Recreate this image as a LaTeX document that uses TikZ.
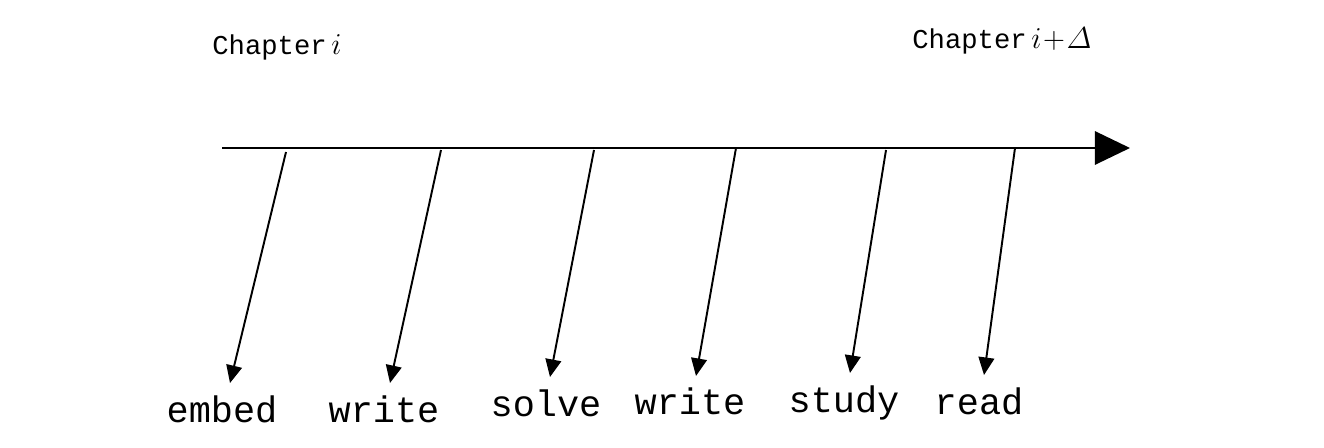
\documentclass[tikz,border=0pt]{standalone}
\usepackage{amsmath}
\usepackage{fontspec}
\setmonofont{Liberation Mono}
\usepackage{tikz}
\usetikzlibrary{arrows.meta}

\begin{document}
\begin{tikzpicture}[x=0.02cm, y=-0.02cm,
    pointer/.style = {line width=1.1pt, -{Triangle[length=10pt,width=9pt]}},
    verb/.style = {font=\ttfamily\fontsize{21}{25}\selectfont, anchor=base, inner sep=0pt},
    chapter/.style = {font=\ttfamily\fontsize{15.5}{18}\selectfont, anchor=base west, inner sep=0pt}]
  \useasboundingbox (0,0) rectangle (1324,448);
  % time line
  \coordinate (begin) at (222,148);
  \coordinate (end) at (1130,148);
  \draw [line width=1.1pt, -{Triangle[length=20pt,width=19pt]}] (begin) -- (end);
  % chapters
  \node[chapter] (chapi) at (212,55) {Chapter\,\fontsize{19}{22}\selectfont$i$};
  \node[chapter] (chapj) at (912,49) {Chapter\,\fontsize{19}{22}\selectfont$i\mkern1mu{+}\mkern1mu\varDelta$};
  % draw verbs
  \node[verb] (embed)  at (222,423) {embed};
  \node[verb] (write)  at (384,423) {write};
  \node[verb] (solve)  at (546,417) {solve};
  \node[verb] (writeb) at (690,415) {write};
  \node[verb] (study)  at (844,413) {study};
  \node[verb] (read)   at (979,415) {read};
  % draw pointers
  \coordinate (s1) at (286,152);  \coordinate (e1) at (230,383);
  \coordinate (s2) at (441,150);  \coordinate (e2) at (390,383);
  \coordinate (s3) at (594,150);  \coordinate (e3) at (550,377);
  \coordinate (s4) at (736,148);  \coordinate (e4) at (696,376);
  \coordinate (s5) at (886,150);  \coordinate (e5) at (850,373);
  \coordinate (s6) at (1015,148); \coordinate (e6) at (984,375);
  \draw[pointer] (s1) -- (e1);
  \draw[pointer] (s2) -- (e2);
  \draw[pointer] (s3) -- (e3);
  \draw[pointer] (s4) -- (e4);
  \draw[pointer] (s5) -- (e5);
  \draw[pointer] (s6) -- (e6);
\end{tikzpicture}
\end{document}
